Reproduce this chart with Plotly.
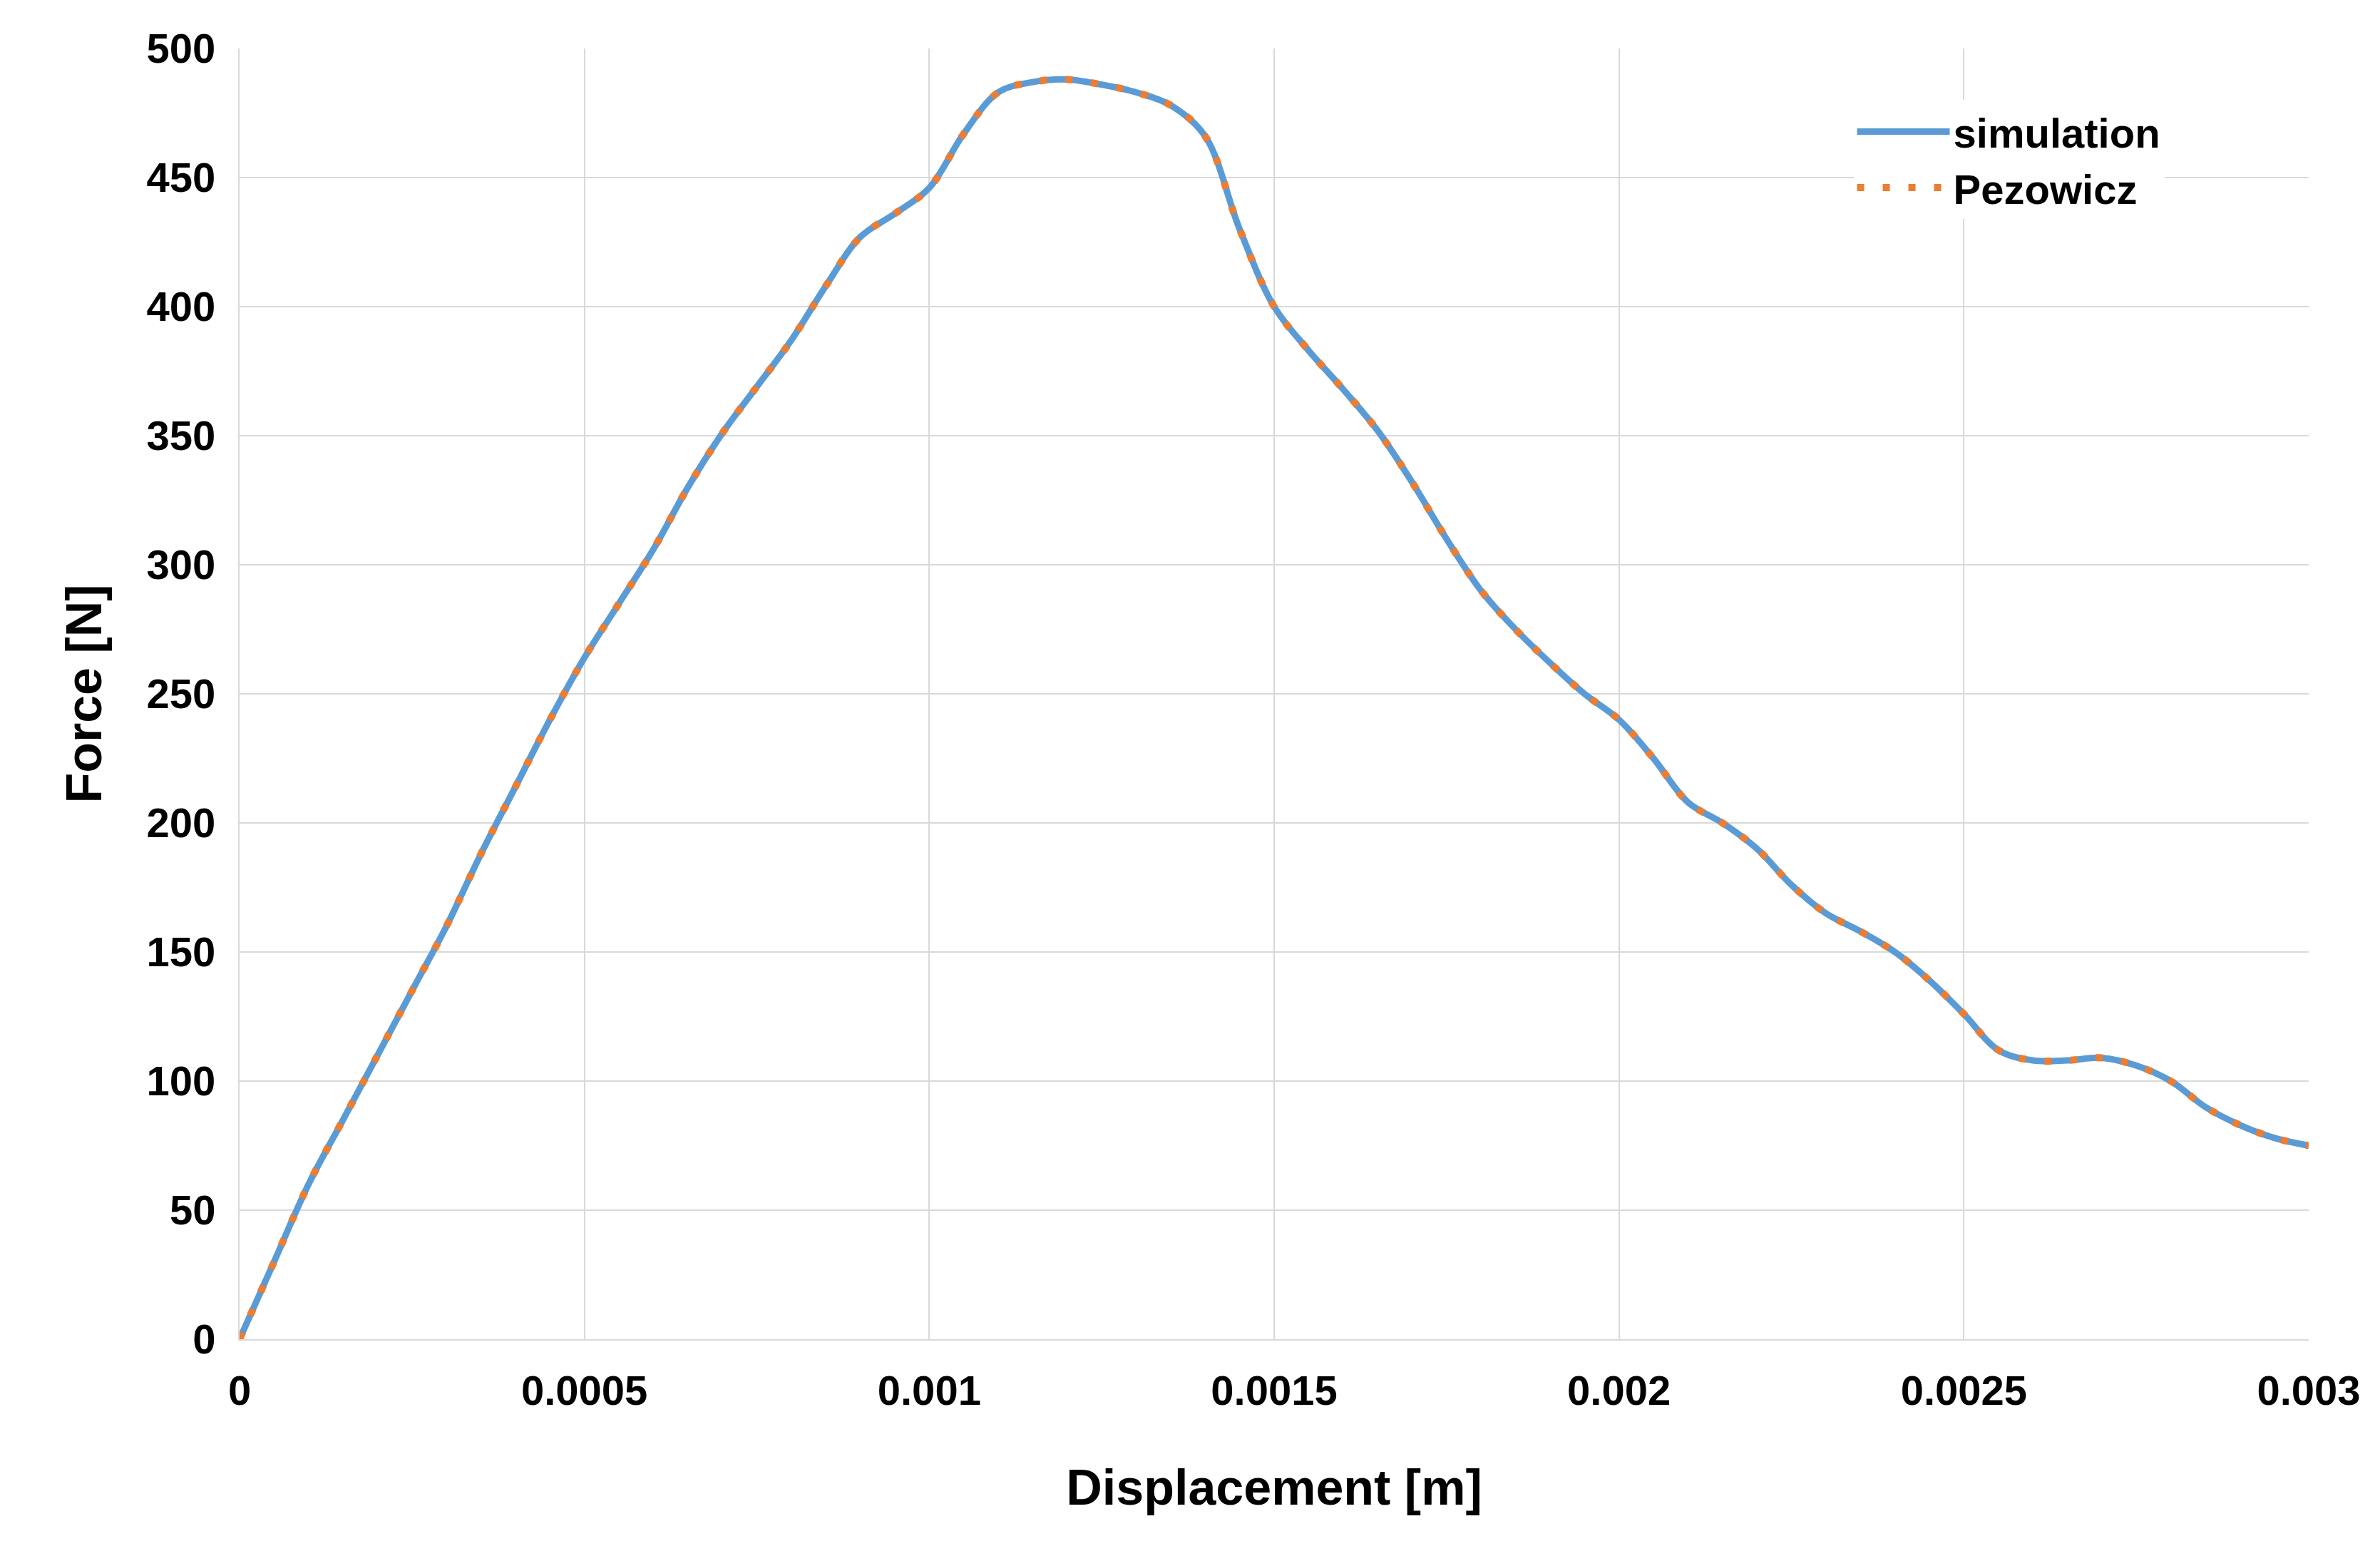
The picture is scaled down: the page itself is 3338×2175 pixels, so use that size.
import plotly.graph_objects as go

disp = [0,0.00005,0.0001,0.00015,0.0002,0.00025,0.0003,0.00035,0.0004,0.00045,0.0005,0.00055,0.0006,0.00065,0.0007,0.00075,0.0008,0.00085,0.0009,0.00095,0.001,0.00105,0.0011,0.00115,0.0012,0.00125,0.0013,0.00135,0.0014,0.00145,0.0015,0.00155,0.0016,0.00165,0.0017,0.00175,0.0018,0.00185,0.0019,0.00195,0.002,0.00205,0.0021,0.00215,0.0022,0.00225,0.0023,0.00235,0.0024,0.00245,0.0025,0.00255,0.0026,0.00265,0.0027,0.00275,0.0028,0.00285,0.0029,0.00295,0.003]
force_sim = [0,30,60,85,110,135,160,188,214,240,264,285,306,330,351,369,387,408,427,436,446,467,483,487,488,486,483,478,466,430,400,383,368,352,332,310,290,275,262,250,240,225,208,200,190,176,165,158,150,139,126,112,108,108,109,106,100,90,83,78,75]
force_pez = force_sim

fig = go.Figure()
fig.add_trace(go.Scatter(x=disp, y=force_sim, name="simulation", mode="lines",
                         line=dict(color="#5B9BD5", width=9, shape="spline")))
fig.add_trace(go.Scatter(x=disp, y=force_pez, name="Pezowicz", mode="lines",
                         line=dict(color="#ED7D31", width=10, dash="10px,26px", shape="spline")))
font = "Liberation Sans, Arial, sans-serif"
fig.update_layout(
    width=3338, height=2175, paper_bgcolor="white", plot_bgcolor="white",
    margin=dict(l=328, r=108, t=60, b=305),
    font=dict(family=font, size=58, color="black"),
    legend=dict(x=0.78, y=0.96, xanchor="left", yanchor="top", bgcolor="white",
                font=dict(size=58, family=font, weight="bold"), itemwidth=130, tracegroupgap=10),
    xaxis=dict(range=[0, 0.003], tickvals=[0,0.0005,0.001,0.0015,0.002,0.0025,0.003],
               ticktext=["0","0.0005","0.001","0.0015","0.002","0.0025","0.003"],
               showgrid=True, gridcolor="#D9D9D9", gridwidth=2, zeroline=False,
               showline=True, linecolor="#D9D9D9", linewidth=2,
               tickfont=dict(size=58, weight="bold"), ticks="outside", ticklen=20, tickcolor="rgba(0,0,0,0)",
               title=dict(text="Displacement [m]", font=dict(size=70, weight="bold"), standoff=80)),
    yaxis=dict(range=[0, 500], dtick=50, showgrid=True, gridcolor="#D9D9D9", gridwidth=2,
               zeroline=False, showline=True, linecolor="#D9D9D9", linewidth=2,
               tickfont=dict(size=58, weight="bold"), ticks="outside", ticklen=20, tickcolor="rgba(0,0,0,0)",
               title=dict(text="Force [N]", font=dict(size=70, weight="bold"), standoff=40)),
)
fig.write_html("out.html")
